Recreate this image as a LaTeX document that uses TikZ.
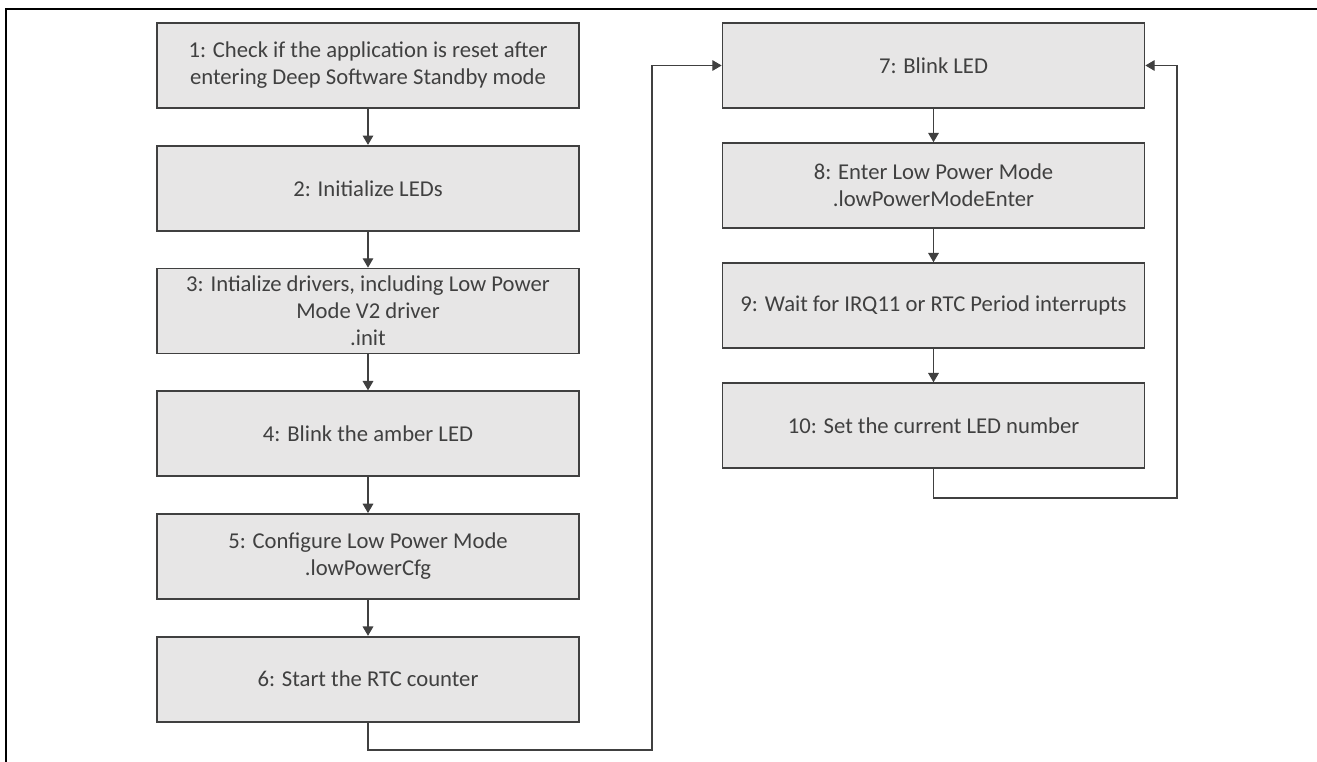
\documentclass[tikz,border=0pt]{standalone}
\usepackage{fontspec}
\setmainfont{Carlito}
\usetikzlibrary{positioning,arrows.meta}
\definecolor{boxfill}{HTML}{E7E6E6}
\definecolor{linegray}{HTML}{404040}

\begin{document}
\begin{tikzpicture}[x=0.75pt,y=-0.75pt,
        stepbox/.style={draw=linegray, line width=1.3pt, fill=boxfill, text=linegray,
            minimum width=316.5pt, minimum height=63.75pt, inner sep=0pt, align=center,
            font=\fontsize{17}{20.25}\selectfont},
        flow/.style={draw=linegray, line width=0.8pt, -{Triangle[width=8pt,length=7pt]}}]
        \useasboundingbox (0,0) rectangle (1317,762);
        % Frame
        \draw[line width=1.5pt] (6,762) -- (6,9) -- (1317,9);

        % Nodes
        \node[stepbox] at (368,65.5) (s1) {1: Check if the application is reset after\\entering Deep Software Standby mode};
        \node[stepbox, below=27pt of s1]  (s2) {2: Initialize LEDs};
        \node[stepbox, below=27pt of s2]  (s3) {3: Intialize drivers, including Low Power\\Mode V2 driver\\.init};
        \node[stepbox, below=27pt of s3]  (s4) {4: Blink the amber LED};
        \node[stepbox, below=27pt of s4]  (s5) {5: Configure Low Power Mode\\.lowPowerCfg};
        \node[stepbox, below=27pt of s5]  (s6) {6: Start the RTC counter};

        \node[stepbox] at (933.5,65.5) (s7) {7: Blink LED};
        \node[stepbox, below=25pt of s7]  (s8) {8: Enter Low Power Mode\\.lowPowerModeEnter};
        \node[stepbox, below=25pt of s8]  (s9) {9: Wait for IRQ11 or RTC Period interrupts};
        \node[stepbox, below=25pt of s9]  (s10) {10: Set the current LED number};

        \coordinate (low6) at (652,750);
        \coordinate (low10) at (1177,498);

        % Edges
        \draw[flow] (s1) -- (s2);
        \draw[flow] (s2) -- (s3);
        \draw[flow] (s3) -- (s4);
        \draw[flow] (s4) -- (s5);
        \draw[flow] (s5) -- (s6);
        \draw[flow] (s6.south) |- (low6) |- (s7.west);
        \draw[flow] (s7) -- (s8);
        \draw[flow] (s8) -- (s9);
        \draw[flow] (s9) -- (s10);
        \draw[flow] (s10.south) |- (low10) |- (s7.east);
    \end{tikzpicture}
\end{document}
